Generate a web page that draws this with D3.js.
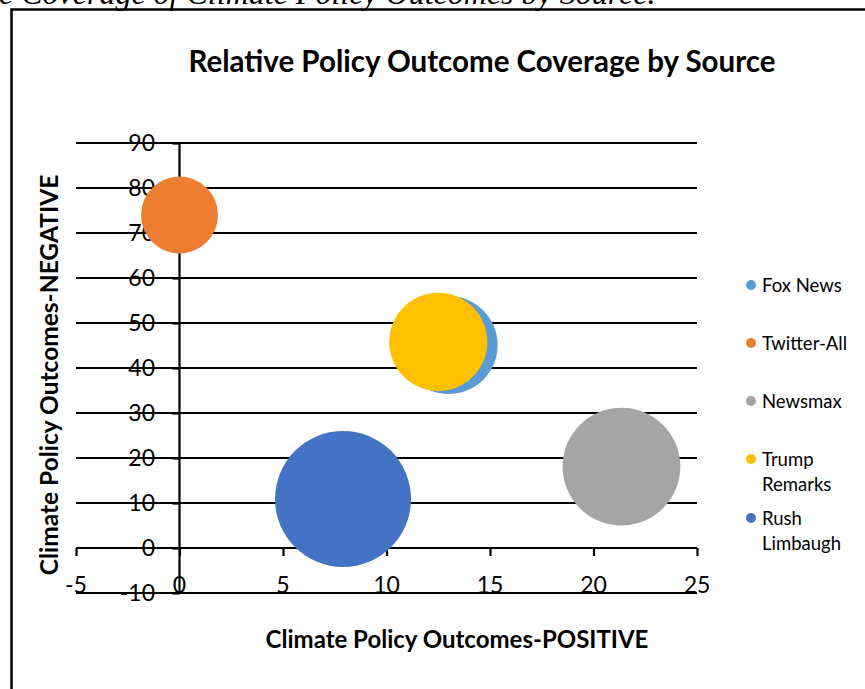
<!DOCTYPE html>
<html>
<head>
<meta charset="utf-8">
<script src="https://cdn.jsdelivr.net/npm/d3@7"></script>
<style>
  html, body { margin: 0; padding: 0; background: #fff; }
  svg { display: block; }
  text { font-family: Lato, "Open Sans", sans-serif; fill: #000; }
</style>
</head>
<body>
<svg id="chart" width="865" height="689"></svg>
<script>
// Bubble series: positive outcomes (x), negative outcomes (y), relative size
const sources  = ["Fox News", "Twitter-All", "Newsmax", "Trump Remarks", "Rush Limbaugh"];
const positive = [13.0, 0.0, 21.35, 12.5, 7.9];
const negative = [45.1, 74.0, 18.1, 45.8, 10.9];
const sizes    = [52, 32, 75, 52, 100];
const colors   = ["#5B9BD5", "#ED7D31", "#A5A5A5", "#FFC000", "#4472C4"];
const legendLines = [["Fox News"], ["Twitter-All"], ["Newsmax"], ["Trump", "Remarks"], ["Rush", "Limbaugh"]];

const xTicks = [-5, 0, 5, 10, 15, 20, 25];
const yTicks = [-10, 0, 10, 20, 30, 40, 50, 60, 70, 80, 90];

const svg = d3.select("#chart");

// Caption line above the chart frame (clipped at the top of the page)
svg.append("text")
  .attr("x", -1).attr("y", 4)
  .style("font-family", "'Liberation Serif', 'Times New Roman', serif")
  .style("font-style", "italic")
  .style("font-size", "32px")
  .text("e Coverage of Climate Policy Outcomes by Source.");

// Chart frame
svg.append("rect")
  .attr("x", 11.5).attr("y", 9.5)
  .attr("width", 870).attr("height", 700)
  .attr("fill", "none").attr("stroke", "#000").attr("stroke-width", 2.5);

const x = d3.scaleLinear().domain([-5, 25]).range([76, 697]);
const y = d3.scaleLinear().domain([-10, 90]).range([593, 143]);
const r = d3.scaleSqrt().domain([0, d3.max(sizes)]).range([0, 68]);

// Horizontal gridlines
svg.append("g")
  .selectAll("line").data(yTicks).join("line")
  .attr("x1", x(-5)).attr("x2", x(25))
  .attr("y1", d => y(d)).attr("y2", d => y(d))
  .attr("stroke", "#000").attr("stroke-width", 2.2);

// Horizontal axis crossing at y = 0
const xAxis = svg.append("g")
  .attr("transform", `translate(0,${y(0)})`)
  .call(d3.axisBottom(x).tickValues(xTicks).tickSize(8).tickFormat(""));
xAxis.select(".domain").attr("stroke", "#000").attr("stroke-width", 2.2)
  .attr("d", `M${x(-5)},0H${x(25)}`);
xAxis.selectAll(".tick line").attr("stroke", "#000").attr("stroke-width", 2.2);

// Vertical axis crossing at x = 0
const yAxis = svg.append("g")
  .attr("transform", `translate(${x(0)},0)`)
  .call(d3.axisLeft(y).tickValues(yTicks).tickSize(7).tickFormat(""));
yAxis.select(".domain").attr("stroke", "#000").attr("stroke-width", 2.2)
  .attr("d", `M0,${y(90)}V${y(-10)}`);
yAxis.selectAll(".tick line").attr("stroke", "#000").attr("stroke-width", 2.2);

// Tick labels
svg.append("g").selectAll("text").data(yTicks).join("text")
  .attr("x", 155).attr("y", d => y(d))
  .attr("dy", "0.36em")
  .attr("text-anchor", "end")
  .style("font-size", "23px")
  .text(d => d);

svg.append("g").selectAll("text").data(xTicks).join("text")
  .attr("x", d => x(d)).attr("y", 593)
  .attr("text-anchor", "middle")
  .style("font-size", "23px")
  .text(d => d);

// Bubbles
const bubbles = sources.map((s, i) => ({ s, px: positive[i], ny: negative[i], size: sizes[i], c: colors[i] }));
svg.append("g").selectAll("circle").data(bubbles).join("circle")
  .attr("cx", d => x(d.px))
  .attr("cy", d => y(d.ny))
  .attr("r", d => r(d.size))
  .attr("fill", d => d.c);

// Title
svg.append("text")
  .attr("x", 482).attr("y", 72)
  .attr("text-anchor", "middle")
  .style("font-size", "29.5px").style("font-weight", "bold")
  .text("Relative Policy Outcome Coverage by Source");

// Axis titles
svg.append("text")
  .attr("x", 457).attr("y", 648)
  .attr("text-anchor", "middle")
  .style("font-size", "24px").style("font-weight", "bold")
  .text("Climate Policy Outcomes-POSITIVE");

svg.append("text")
  .attr("transform", "translate(58,375) rotate(-90)")
  .attr("text-anchor", "middle")
  .style("font-size", "24.5px").style("font-weight", "bold")
  .text("Climate Policy Outcomes-NEGATIVE");

// Legend
const legendY = [285, 343, 401, 459, 518];
const legend = svg.append("g").selectAll("g").data(bubbles).join("g")
  .attr("transform", (d, i) => `translate(751,${legendY[i]})`);
legend.append("circle").attr("r", 5).attr("fill", d => d.c);
legend.append("text")
  .style("font-size", "18.5px")
  .selectAll("tspan").data((d, i) => legendLines[i]).join("tspan")
  .attr("x", 11).attr("dy", (d, j) => j === 0 ? "0.36em" : "1.35em")
  .text(d => d);
</script>
</body>
</html>
